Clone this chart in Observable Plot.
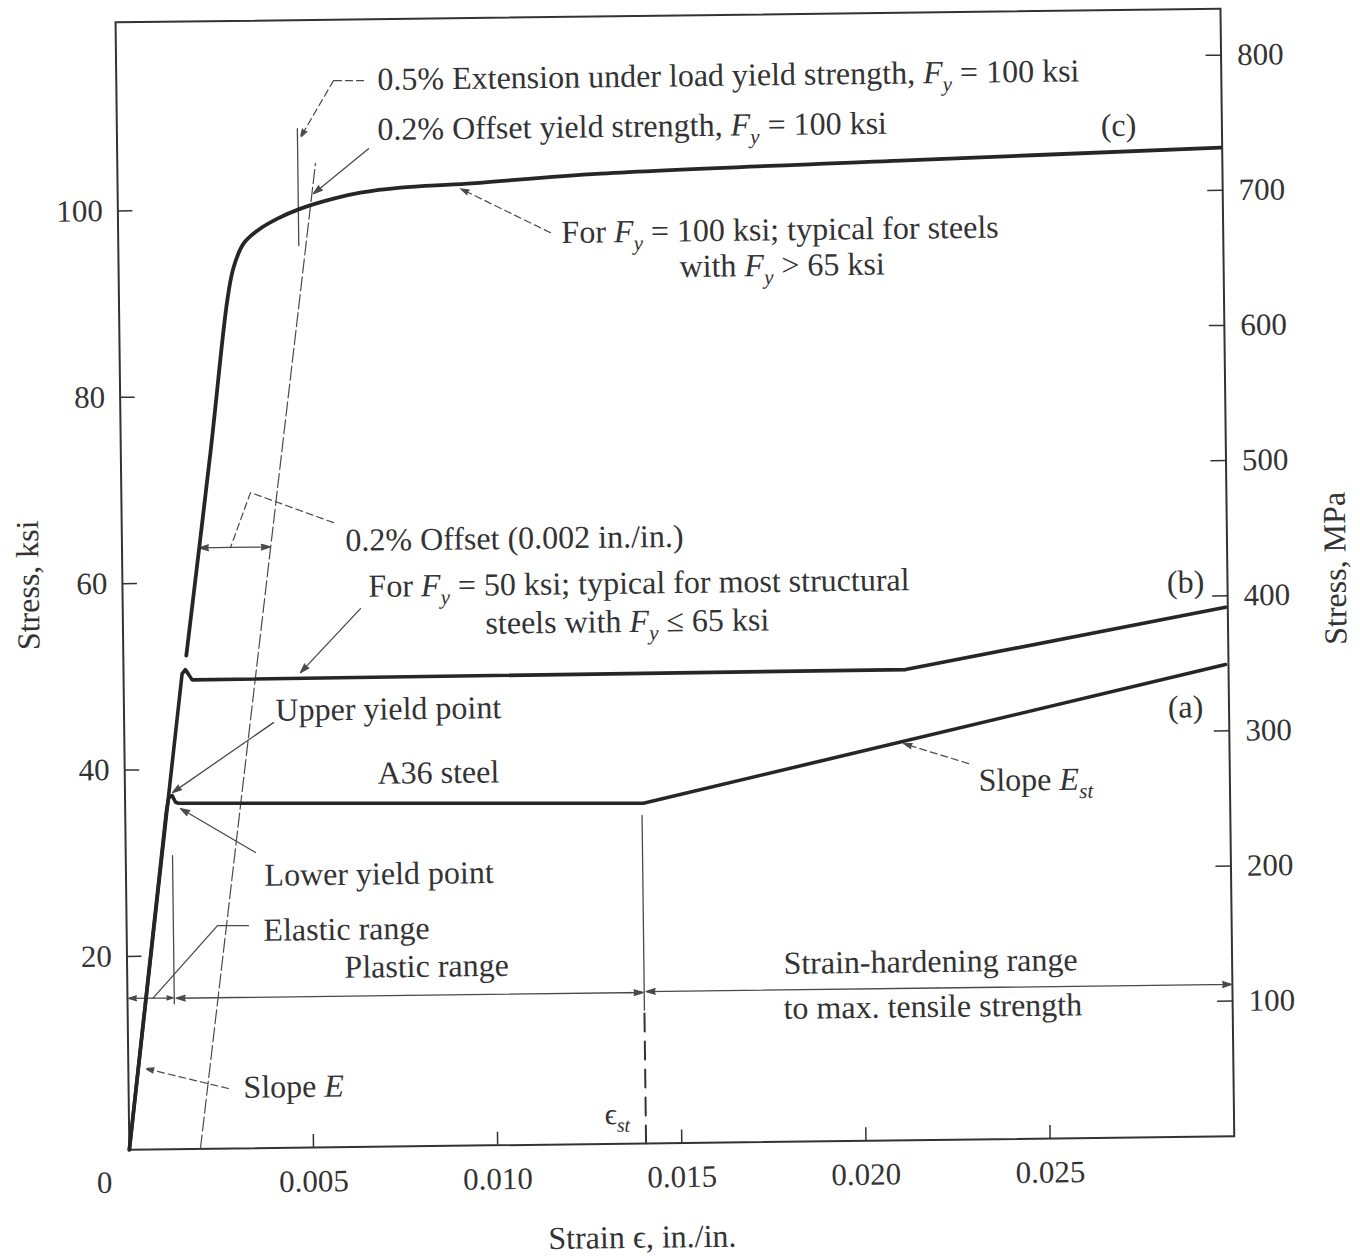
<!DOCTYPE html>
<html><head><meta charset="utf-8">
<script src="https://cdn.jsdelivr.net/npm/d3@7"></script>
<script src="https://cdn.jsdelivr.net/npm/@observablehq/plot@0.6"></script>
<style>
html,body{margin:0;padding:0;background:#fff;overflow:hidden}
#chart{width:1360px;height:1256px;transform:rotate(-0.7deg);transform-origin:680px 628px}
</style></head><body><div id="chart"></div>
<script>
// ---- curves: strain (in./in.) and stress (ksi) ----
const strainA = [0, 0.00112, 0.00119, 0.00128, 0.00137, 0.00145, 0.01407, 0.02992];
const stressA = [0, 36.35, 37.77, 37.95, 37.23, 37.12, 36.51, 50.63];
const strainB = [0, 0.00159, 0.00168, 0.00177, 0.00186, 0.02123, 0.02994];
const stressB = [0, 51.0, 51.45, 50.91, 50.34, 50.51, 56.77];
const strainC = [0.00171, 0.00244, 0.00294, 0.00312, 0.0034, 0.00378, 0.00433, 0.00496, 0.00586, 0.00659, 0.00768, 0.0095, 0.01312, 0.02126, 0.02996];
const stressC = [52.95, 74.92, 90.99, 94.52, 97.08, 98.46, 99.72, 100.77, 101.8, 102.4, 102.89, 103.23, 104.13, 105.13, 106.1];

// ---- axes ----
const strainTicks = [0.005, 0.010, 0.015, 0.020, 0.025];
const ksiTicks = [20, 40, 60, 80, 100];
const mpaTicks = [100, 200, 300, 400, 500, 600, 700, 800];
const ksiPerMpa = 1 / 6.89476;

// ---- annotation texts ----
const noteText = [
  "0.5% Extension under load yield strength, *F*_{y} = 100 ksi",
  "0.2% Offset yield strength, *F*_{y} = 100 ksi",
  "For *F*_{y} = 100 ksi; typical for steels",
  "with *F*_{y} > 65 ksi",
  "0.2% Offset (0.002 in./in.)",
  "For *F*_{y} = 50 ksi; typical for most structural",
  "steels with *F*_{y} ≤ 65 ksi",
  "Upper yield point",
  "A36 steel",
  "Slope *E*_{st}",
  "Lower yield point",
  "Elastic range",
  "Plastic range",
  "Strain-hardening range",
  "to max. tensile strength",
  "Slope *E*"
];
const noteStrain = [0.00709, 0.007075, 0.012036, 0.015229, 0.00607, 0.006679, 0.009843, 0.004113, 0.006862, 0.023176, 0.00376, 0.003714, 0.005901, 0.017821, 0.017807, 0.003119];
const noteStress = [114.5, 109.14, 97.85, 94.04, 65.08, 60.12, 56.0, 46.94, 40.04, 38.5, 29.25, 23.35, 19.27, 19.12, 14.29, 6.53];

const curveTags = ["(a)", "(b)", "(c)"];
const tagStrain = [0.02882, 0.028862, 0.027195];
const tagStress = [46.1, 59.5, 108.6];

const epsLabel = "ϵ_{st}";
const epsLabelAt = [0.012912, 3.15];

// ---- arrows: [strain1, stress1, strain2, stress2] (tail -> head) ----
const solidArrows = [
  [0.006825, 107.11, 0.005316, 102.36],
  [0.006455, 57.77, 0.004804, 50.98],
  [0.004055, 45.65, 0.00129, 38.27],
  [0.003524, 31.73, 0.001501, 36.55],
  [0.00295, 64.5, 0.0021, 64.5],
  [0.00295, 64.5, 0.00403, 64.5],
  [0.0007, 16.25, 0.00003, 16.25],
  [0.0007, 16.25, 0.00124, 16.25],
  [0.0076, 16.2, 0.00132, 16.2],
  [0.0076, 16.2, 0.01400, 16.2],
  [0.022, 16.3, 0.01408, 16.3],
  [0.022, 16.3, 0.02998, 16.3]
];
const dashedArrows = [
  [0.005897, 114.46, 0.00498, 108.4],
  [0.011738, 97.86, 0.009309, 102.7],
  [0.002712, 6.44, 0.000465, 8.7],
  [0.02291, 40.34, 0.021152, 42.57]
];

// ---- guide lines: lists of [strain, stress] ----
const extensionLine = [[0.0049, 109.35], [0.0049, 96.8]];
const elasticLimitLine = [[0.00127, 15.6], [0.00127, 31.5]];
const epsStSolid = [[0.01403, 14.3], [0.01403, 35.2]];
const epsStDashed = [[0.01403, 0], [0.01403, 14.3]];
const elasticLeader = [[0.003309, 23.9], [0.002467, 23.94], [0.000706, 16.3]];
const extensionLeader = [[0.006711, 114.42], [0.005897, 114.46]];
const offsetLeader = [[0.00575, 67.03], [0.003507, 70.36], [0.002946, 64.48]];
const offsetLine = [[0.00193, 0], [0.00538, 105.6]];

// ---- build ----
const zip = (xs, ys, s) => xs.map((x, i) => ({x, y: ys[i], s}));
const curves = [...zip(strainA, stressA, "a"), ...zip(strainB, stressB, "b")];
const curveC = zip(strainC, stressC, "c");
const notes = noteText.map((t, i) => ({t, x: noteStrain[i], y: noteStress[i]}));
const tags = curveTags.map((t, i) => ({t, x: tagStrain[i], y: tagStress[i]}));
const arr = a => a.map(([x1, y1, x2, y2]) => ({x1, y1, x2, y2}));
const pts = (list, g) => list.map(([x, y]) => ({x, y, g}));
const thinSolid = [...pts(extensionLine, 1), ...pts(elasticLimitLine, 2), ...pts(epsStSolid, 3), ...pts(elasticLeader, 4)];
const thinDashed = [...pts(extensionLeader, 1), ...pts(offsetLeader, 2)];

const ink = "#262626", thin = "#4a4a4a", txt = "#333";
const FS = 32;

const chart = Plot.plot({
  width: 1360, height: 1256,
  marginLeft: 122.5, marginRight: 132.5, marginTop: 15, marginBottom: 113.5,
  style: {fontFamily: "'Liberation Serif', 'Times New Roman', serif", fontSize: "31px", color: txt, background: "#fff"},
  x: {domain: [0, 0.030]},
  y: {domain: [0, 121]},
  marks: [
    Plot.frame({stroke: "#333", strokeWidth: 2}),
    Plot.axisX({ticks: strainTicks, tickSize: -13, tickPadding: 35, tickFormat: d => d.toFixed(3), label: null, stroke: "#333", strokeWidth: 1.5, fill: txt}),
    Plot.axisY({ticks: ksiTicks, tickSize: -15, tickPadding: 30, dy: -7, label: null, stroke: "#333", strokeWidth: 1.5, fill: txt}),
    Plot.axisY({anchor: "right", ticks: mpaTicks.map(m => m * ksiPerMpa), tickFormat: d => String(Math.round(d / ksiPerMpa)), tickSize: -16, tickPadding: 32, label: null, stroke: "#333", strokeWidth: 1.5, fill: txt}),
    Plot.text([0], {x: d => d, frameAnchor: "bottom", dx: -25, dy: 33, lineAnchor: "middle", text: () => "0", fill: txt}),
    Plot.text(["Strain ϵ, in./in."], {x: () => 0.0139, frameAnchor: "bottom", dy: 94, lineAnchor: "middle", textAnchor: "middle", text: d => d, fill: txt, fontSize: FS}),
    Plot.text(["Stress, ksi"], {y: () => 60.7, frameAnchor: "left", dx: -94, rotate: -90, textAnchor: "middle", lineAnchor: "middle", text: d => d, fill: txt, fontSize: FS}),
    Plot.text(["Stress, MPa"], {y: () => 60.8, frameAnchor: "right", dx: 108, rotate: -90, textAnchor: "middle", lineAnchor: "middle", text: d => d, fill: txt, fontSize: FS}),
    // guides
    Plot.line(offsetLine.map(([x, y]) => ({x, y})), {x: "x", y: "y", stroke: thin, strokeWidth: 1.2, strokeDasharray: "14,4"}),
    Plot.line(thinSolid, {x: "x", y: "y", z: "g", stroke: thin, strokeWidth: 1.3}),
    Plot.line(thinDashed, {x: "x", y: "y", z: "g", stroke: thin, strokeWidth: 1.2, strokeDasharray: "7,4"}),
    Plot.line(epsStDashed.map(([x, y]) => ({x, y})), {x: "x", y: "y", stroke: "#333", strokeWidth: 2, strokeDasharray: "18,10"}),
    Plot.arrow(arr(solidArrows), {x1: "x1", y1: "y1", x2: "x2", y2: "y2", stroke: thin, fill: thin, strokeWidth: 1.3, headLength: 11, headAngle: 34}),
    Plot.arrow(arr(dashedArrows), {x1: "x1", y1: "y1", x2: "x2", y2: "y2", stroke: thin, fill: thin, strokeWidth: 1.2, strokeDasharray: "7,4", headLength: 11, headAngle: 34}),
    // curves
    Plot.line(curves, {x: "x", y: "y", z: "s", stroke: ink, strokeWidth: 3.6, strokeLinejoin: "round"}),
    Plot.line(curveC, {x: "x", y: "y", stroke: ink, strokeWidth: 3.8, curve: "catmull-rom"}),
    // labels
    Plot.text(notes, {x: "x", y: "y", text: "t", textAnchor: "start", lineAnchor: "middle", fill: txt, fontSize: FS}),
    Plot.text(tags, {x: "x", y: "y", text: "t", textAnchor: "middle", lineAnchor: "middle", fill: txt, fontSize: FS}),
    Plot.text([epsLabel], {x: () => epsLabelAt[0], y: () => epsLabelAt[1], text: d => d, textAnchor: "start", lineAnchor: "middle", fill: txt, fontSize: 30})
  ]
});
document.getElementById("chart").appendChild(chart);

// italic / subscript markup -> tspans
chart.querySelectorAll("text").forEach(t => {
  if (t.querySelector("tspan")) return;
  const s = t.textContent;
  if (!/[*_]/.test(s)) return;
  const fsz = parseFloat(getComputedStyle(t).fontSize) || FS;
  const parts = s.split(/(\*[^*]+\*|_\{[^}]+\})/).filter(p => p !== "");
  t.textContent = "";
  let shift = 0;
  for (const p of parts) {
    const ts = document.createElementNS("http://www.w3.org/2000/svg", "tspan");
    if (p.startsWith("_{")) {
      ts.textContent = p.slice(2, -1);
      ts.setAttribute("font-size", (fsz * 0.66).toFixed(1));
      ts.setAttribute("font-style", "italic");
      shift = fsz * 0.26;
      ts.setAttribute("dy", shift.toFixed(1));
    } else {
      ts.textContent = p.startsWith("*") ? p.slice(1, -1) : p;
      if (p.startsWith("*")) ts.setAttribute("font-style", "italic");
      if (shift) { ts.setAttribute("dy", (-shift).toFixed(1)); shift = 0; }
    }
    t.appendChild(ts);
  }
});
</script>
</body></html>
